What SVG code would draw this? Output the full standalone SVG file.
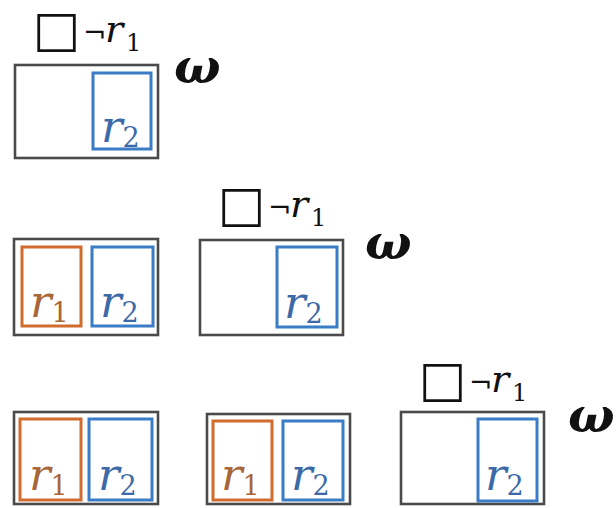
<svg xmlns="http://www.w3.org/2000/svg" width="616" height="508" viewBox="0 0 616 508">
<style>
.outer{fill:#fff;stroke:#4a4a4a;stroke-width:2.6}
.inO{fill:#fff;stroke:#d06d2e;stroke-width:3}
.inB{fill:#fff;stroke:#3b7cc6;stroke-width:3}
text{font-family:'DejaVu Serif',serif}
.r{font-style:italic;font-size:45px}
.sub{font-style:normal;font-size:27px}
.tO{fill:#a9663a}
.tB{fill:#3c6aa8}
.lab{font-size:38px;fill:#111}
.box{font-family:'DejaVu Sans',sans-serif;font-style:normal;font-weight:bold;font-size:50px}
.neg{font-size:28px}
.lr{font-style:italic;font-size:38px}
.ls{font-size:24px}
.om{font-style:italic;font-weight:bold;font-size:49px;fill:#111}
</style>
<rect width="616" height="508" fill="#fff"/>

<g id="row1-world">
<text class="lab" y="46"><tspan class="box" x="33">□</tspan><tspan class="neg" x="83" y="43">¬</tspan><tspan class="lr" x="105" y="42">r</tspan><tspan class="ls" x="126" y="51">1</tspan></text>
<rect class="outer" x="15" y="65" width="143" height="93"/>
<rect class="inB" x="93" y="73" width="58" height="76"/>
<text class="r tB" x="101" y="142">r<tspan class="sub" dy="5">2</tspan></text>
<text class="om" x="174" y="83">ω</text>
</g>

<g id="row2-world1">
<rect class="outer" x="14" y="239" width="144" height="96"/>
<rect class="inO" x="22" y="247" width="59" height="79"/>
<text class="r tO" x="30" y="317">r<tspan class="sub" dy="5">1</tspan></text>
<rect class="inB" x="92" y="247" width="61" height="79"/>
<text class="r tB" x="100" y="317">r<tspan class="sub" dy="5">2</tspan></text>
</g>

<g id="row2-world2">
<text class="lab" y="221"><tspan class="box" x="218">□</tspan><tspan class="neg" x="268" y="218">¬</tspan><tspan class="lr" x="290" y="217">r</tspan><tspan class="ls" x="311" y="226">1</tspan></text>
<rect class="outer" x="200" y="240" width="143" height="95"/>
<rect class="inB" x="277" y="247" width="60" height="80"/>
<text class="r tB" x="284" y="318">r<tspan class="sub" dy="5">2</tspan></text>
<text class="om" x="365" y="259">ω</text>
</g>

<g id="row3-world1">
<rect class="outer" x="14" y="412" width="144" height="92"/>
<rect class="inO" x="20" y="419" width="61" height="81"/>
<text class="r tO" x="29" y="490">r<tspan class="sub" dy="5">1</tspan></text>
<rect class="inB" x="89" y="419" width="63" height="81"/>
<text class="r tB" x="98" y="490">r<tspan class="sub" dy="5">2</tspan></text>
</g>

<g id="row3-world2">
<rect class="outer" x="207" y="414" width="143" height="90"/>
<rect class="inO" x="213" y="421" width="59" height="79"/>
<text class="r tO" x="221" y="490">r<tspan class="sub" dy="5">1</tspan></text>
<rect class="inB" x="283" y="421" width="60" height="79"/>
<text class="r tB" x="291" y="490">r<tspan class="sub" dy="5">2</tspan></text>
</g>

<g id="row3-world3">
<text class="lab" y="396"><tspan class="box" x="419">□</tspan><tspan class="neg" x="469" y="393">¬</tspan><tspan class="lr" x="491" y="392">r</tspan><tspan class="ls" x="512" y="401">1</tspan></text>
<rect class="outer" x="401" y="412" width="143" height="92"/>
<rect class="inB" x="478" y="419" width="59" height="82"/>
<text class="r tB" x="485" y="490">r<tspan class="sub" dy="5">2</tspan></text>
<text class="om" x="568" y="432">ω</text>
</g>

<g id="connectors"></g>
</svg>
